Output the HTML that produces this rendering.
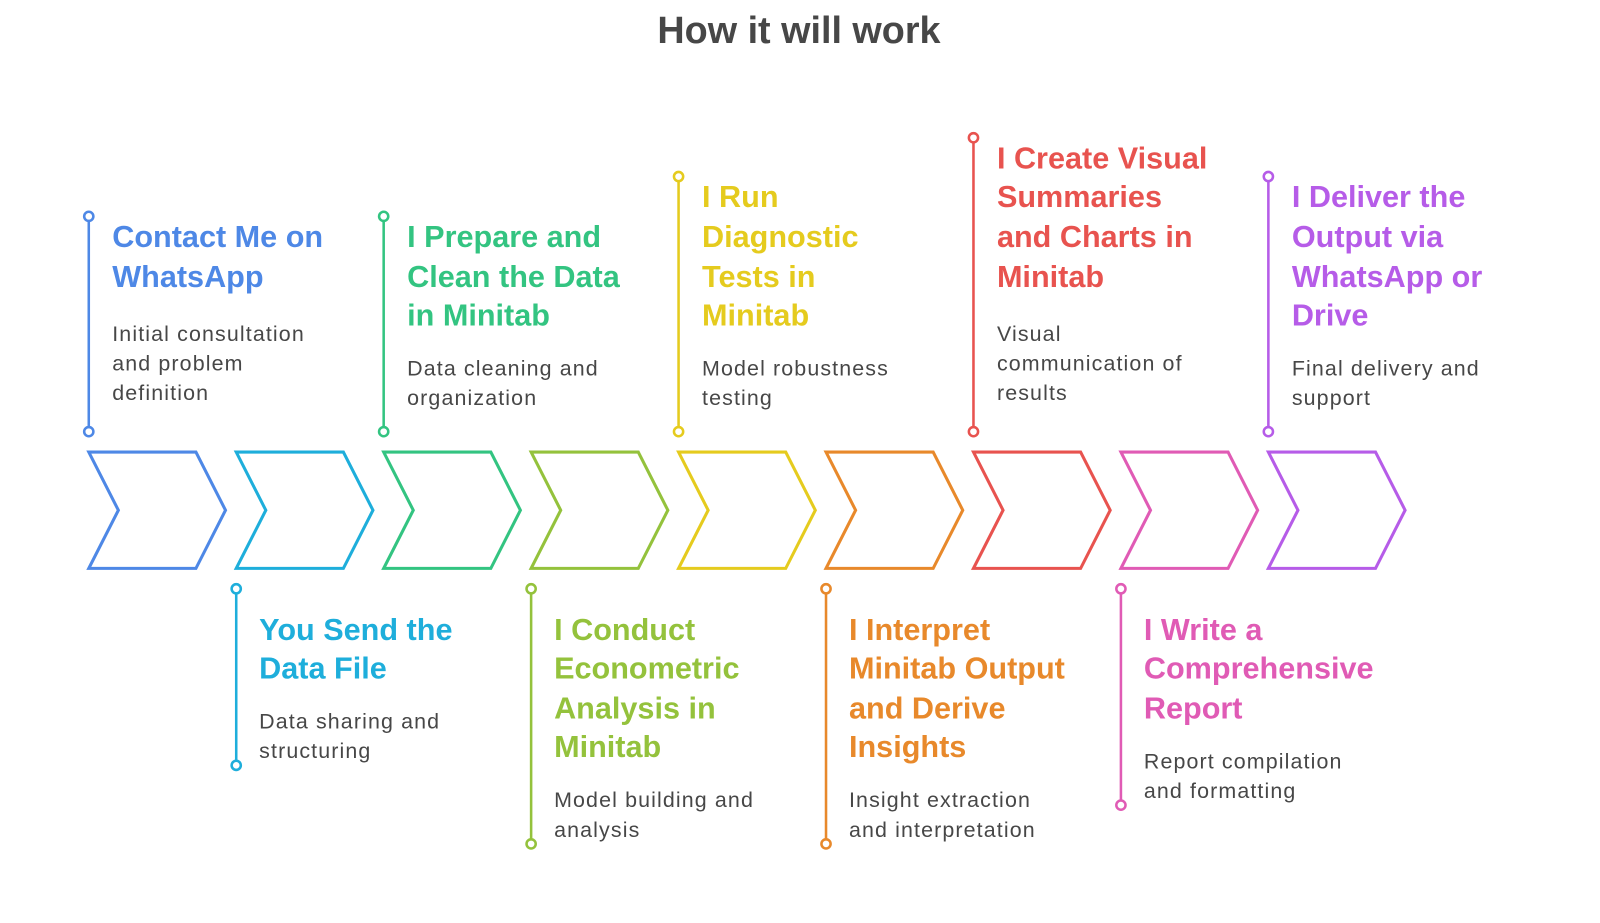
<!DOCTYPE html>
<html><head><meta charset="utf-8"><style>
html,body{margin:0;padding:0;background:#fff;}
svg{display:block}
.t{font-family:"Liberation Sans",sans-serif;font-weight:bold;font-size:30px;}
.d{font-family:"Liberation Sans",sans-serif;font-size:21px;letter-spacing:1.1px;fill:#474747;}
</style></head><body>
<svg width="1600" height="923" viewBox="0 0 1568 904.5" xmlns="http://www.w3.org/2000/svg">
<text x="783" y="42" text-anchor="middle" font-family="Liberation Sans, sans-serif" font-weight="bold" font-size="37" fill="#474747">How it will work</text>
<g fill="none" stroke-width="3" stroke-linejoin="miter">
<path d="M87,443 H192 L221,500 L192,557 H87 L116,500 Z" stroke="#4E88E6"/>
<path d="M87,443 H192 L221,500 L192,557 H87 L116,500 Z" stroke="#1EAEDB" transform="translate(144.5,0)"/>
<path d="M87,443 H192 L221,500 L192,557 H87 L116,500 Z" stroke="#33C481" transform="translate(289,0)"/>
<path d="M87,443 H192 L221,500 L192,557 H87 L116,500 Z" stroke="#94C23C" transform="translate(433.5,0)"/>
<path d="M87,443 H192 L221,500 L192,557 H87 L116,500 Z" stroke="#E5CB1E" transform="translate(578,0)"/>
<path d="M87,443 H192 L221,500 L192,557 H87 L116,500 Z" stroke="#E8892B" transform="translate(722.5,0)"/>
<path d="M87,443 H192 L221,500 L192,557 H87 L116,500 Z" stroke="#E8534F" transform="translate(867,0)"/>
<path d="M87,443 H192 L221,500 L192,557 H87 L116,500 Z" stroke="#E05BB5" transform="translate(1011.5,0)"/>
<path d="M87,443 H192 L221,500 L192,557 H87 L116,500 Z" stroke="#B65CE8" transform="translate(1156,0)"/>
</g>
<g fill="#fff" stroke-width="2.5">
<!-- connectors -->
<g stroke="#4E88E6"><line x1="87" y1="217" x2="87" y2="418"/><circle cx="87" cy="212" r="4.5"/><circle cx="87" cy="423" r="4.5"/></g>
<g stroke="#1EAEDB"><line x1="231.5" y1="582" x2="231.5" y2="745"/><circle cx="231.5" cy="577" r="4.5"/><circle cx="231.5" cy="750" r="4.5"/></g>
<g stroke="#33C481"><line x1="376" y1="217" x2="376" y2="418"/><circle cx="376" cy="212" r="4.5"/><circle cx="376" cy="423" r="4.5"/></g>
<g stroke="#94C23C"><line x1="520.5" y1="582" x2="520.5" y2="822"/><circle cx="520.5" cy="577" r="4.5"/><circle cx="520.5" cy="827" r="4.5"/></g>
<g stroke="#E5CB1E"><line x1="665" y1="178" x2="665" y2="418"/><circle cx="665" cy="173" r="4.5"/><circle cx="665" cy="423" r="4.5"/></g>
<g stroke="#E8892B"><line x1="809.5" y1="582" x2="809.5" y2="822"/><circle cx="809.5" cy="577" r="4.5"/><circle cx="809.5" cy="827" r="4.5"/></g>
<g stroke="#E8534F"><line x1="954" y1="140" x2="954" y2="418"/><circle cx="954" cy="135" r="4.5"/><circle cx="954" cy="423" r="4.5"/></g>
<g stroke="#E05BB5"><line x1="1098.5" y1="582" x2="1098.5" y2="784"/><circle cx="1098.5" cy="577" r="4.5"/><circle cx="1098.5" cy="789" r="4.5"/></g>
<g stroke="#B65CE8"><line x1="1243" y1="178" x2="1243" y2="418"/><circle cx="1243" cy="173" r="4.5"/><circle cx="1243" cy="423" r="4.5"/></g>
</g>
<!-- 1 -->
<text class="t" fill="#4E88E6"><tspan x="110" y="242">Contact Me on</tspan><tspan x="110" y="281">WhatsApp</tspan></text>
<text class="d"><tspan x="110" y="334">Initial consultation</tspan><tspan x="110" y="363">and problem</tspan><tspan x="110" y="392">definition</tspan></text>
<!-- 2 -->
<text class="t" fill="#1EAEDB"><tspan x="254" y="627">You Send the</tspan><tspan x="254" y="665">Data File</tspan></text>
<text class="d"><tspan x="254" y="714">Data sharing and</tspan><tspan x="254" y="743">structuring</tspan></text>
<!-- 3 -->
<text class="t" fill="#33C481"><tspan x="399" y="242">I Prepare and</tspan><tspan x="399" y="281">Clean the Data</tspan><tspan x="399" y="319">in Minitab</tspan></text>
<text class="d"><tspan x="399" y="368">Data cleaning and</tspan><tspan x="399" y="397">organization</tspan></text>
<!-- 4 -->
<text class="t" fill="#94C23C"><tspan x="543" y="627">I Conduct</tspan><tspan x="543" y="665">Econometric</tspan><tspan x="543" y="704">Analysis in</tspan><tspan x="543" y="742">Minitab</tspan></text>
<text class="d"><tspan x="543" y="791">Model building and</tspan><tspan x="543" y="820">analysis</tspan></text>
<!-- 5 -->
<text class="t" fill="#E5CB1E"><tspan x="688" y="203">I Run</tspan><tspan x="688" y="242">Diagnostic</tspan><tspan x="688" y="281">Tests in</tspan><tspan x="688" y="319">Minitab</tspan></text>
<text class="d"><tspan x="688" y="368">Model robustness</tspan><tspan x="688" y="397">testing</tspan></text>
<!-- 6 -->
<text class="t" fill="#E8892B"><tspan x="832" y="627">I Interpret</tspan><tspan x="832" y="665">Minitab Output</tspan><tspan x="832" y="704">and Derive</tspan><tspan x="832" y="742">Insights</tspan></text>
<text class="d"><tspan x="832" y="791">Insight extraction</tspan><tspan x="832" y="820">and interpretation</tspan></text>
<!-- 7 -->
<text class="t" fill="#E8534F"><tspan x="977" y="165">I Create Visual</tspan><tspan x="977" y="203">Summaries</tspan><tspan x="977" y="242">and Charts in</tspan><tspan x="977" y="281">Minitab</tspan></text>
<text class="d"><tspan x="977" y="334">Visual</tspan><tspan x="977" y="363">communication of</tspan><tspan x="977" y="392">results</tspan></text>
<!-- 8 -->
<text class="t" fill="#E05BB5"><tspan x="1121" y="627">I Write a</tspan><tspan x="1121" y="665">Comprehensive</tspan><tspan x="1121" y="704">Report</tspan></text>
<text class="d"><tspan x="1121" y="753">Report compilation</tspan><tspan x="1121" y="782">and formatting</tspan></text>
<!-- 9 -->
<text class="t" fill="#B65CE8"><tspan x="1266" y="203">I Deliver the</tspan><tspan x="1266" y="242">Output via</tspan><tspan x="1266" y="281">WhatsApp or</tspan><tspan x="1266" y="319">Drive</tspan></text>
<text class="d"><tspan x="1266" y="368">Final delivery and</tspan><tspan x="1266" y="397">support</tspan></text>
</svg>
</body></html>
